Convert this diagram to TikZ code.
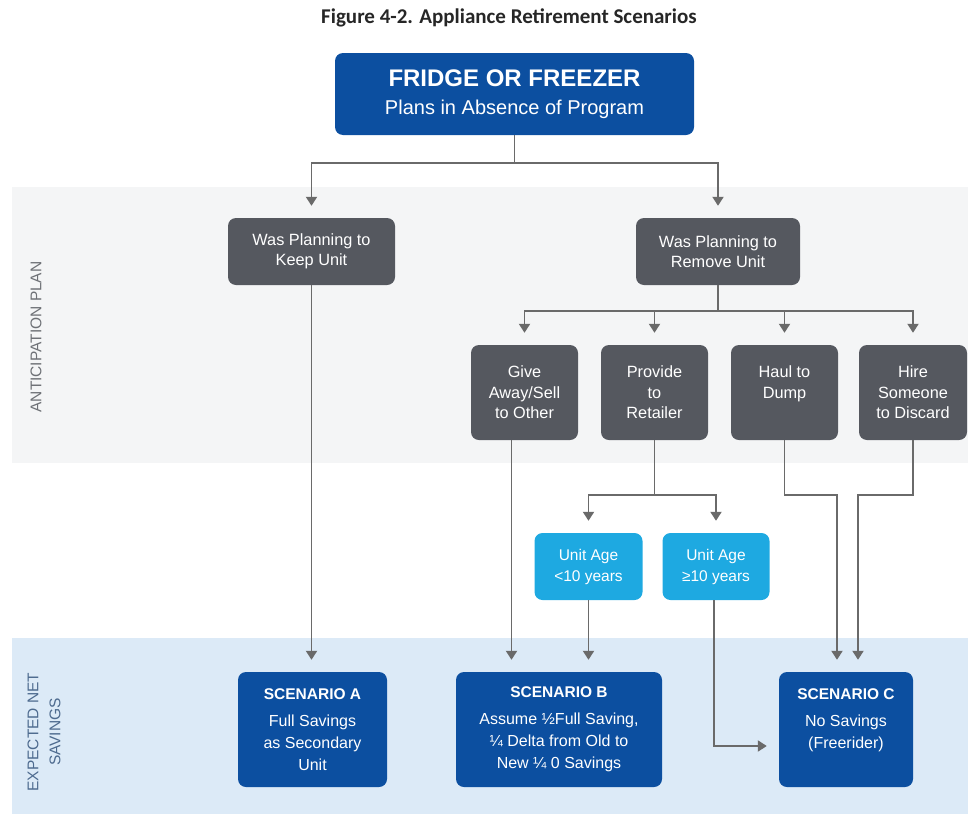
\documentclass[tikz,border=0pt]{standalone}
\usepackage{fontspec}
\setmainfont{Liberation Sans}
\newfontfamily\captionfont{Carlito}
\usetikzlibrary{arrows.meta,calc}

\definecolor{navy}{HTML}{0C4FA0}
\definecolor{slate}{HTML}{55585F}
\definecolor{sky}{HTML}{1EA9E1}
\definecolor{wire}{HTML}{6A6A6A}
\definecolor{planband}{HTML}{F4F5F6}
\definecolor{saveband}{HTML}{DCEAF7}
\definecolor{planlabel}{HTML}{6E7176}
\definecolor{savelabel}{HTML}{4E6B8F}

\begin{document}
\begin{tikzpicture}[x=1pt,y=-1pt,
  box/.style={rounded corners=8pt, text=white, align=center, inner sep=0pt},
  planbox/.style={box, fill=slate, font=\fontsize{16.3}{20.5}\selectfont},
  agebox/.style={box, fill=sky, font=\fontsize{15.5}{21}\selectfont},
  scenbox/.style={box, fill=navy, minimum height=115pt, font=\fontsize{16}{22}\selectfont},
  link/.style={draw=wire, line width=1.9pt},
  arr/.style={link, -{Triangle[width=11pt,length=9pt]}, shorten >=12pt},
  bandlabel/.style={rotate=90, align=center}
]
\useasboundingbox (0,0) rectangle (976,819);

% background bands
\fill[planband] (12,187) rectangle (968,463);
\fill[saveband] (12,638) rectangle (968,814);

% caption
\node[font=\captionfont\bfseries\fontsize{21}{24}\selectfont, text=black!85] (caption) at (509,18)
  {Figure 4-2. Appliance Retirement Scenarios};

% band labels
\node[bandlabel, text=planlabel, font=\fontsize{15.5}{20}\selectfont] (planlbl) at (36,337) {ANTICIPATION PLAN};
\node[bandlabel, text=savelabel, font=\fontsize{15.5}{22}\selectfont] (savelbl) at (44,732) {EXPECTED NET\\SAVINGS};

% root
\node[box, fill=navy, minimum width=359pt, minimum height=82pt, font=\fontsize{20}{28}\selectfont] (root) at (514.5,94)
  {{\fontsize{24}{28}\selectfont\bfseries FRIDGE OR FREEZER}\\
   Plans in Absence of Program};

% first level
\node[planbox, minimum width=167pt, minimum height=67pt] (keep) at (311.5,251.5) {Was Planning to\\Keep Unit};
\node[planbox, minimum width=164pt, minimum height=67pt] (remove) at (718,251.5) {Was Planning to\\Remove Unit};

% removal options
\node[planbox, minimum width=107pt, minimum height=95pt] (give) at (524.5,392.5) {Give\\Away/Sell\\to Other};
\node[planbox, minimum width=107pt, minimum height=95pt] (retail) at (654.5,392.5) {Provide\\to\\Retailer};
\node[planbox, minimum width=107pt, minimum height=95pt] (dump) at (784.5,392.5) {Haul to\\Dump\\\phantom{to Other}};
\node[planbox, minimum width=108pt, minimum height=95pt] (hire) at (913,392.5) {Hire\\Someone\\to Discard};

% unit age
\node[agebox, minimum width=108pt, minimum height=67pt] (young) at (588.5,566.5) {Unit Age\\<10 years};
\node[agebox, minimum width=107pt, minimum height=67pt] (old) at (716,566.5) {Unit Age\\≥10 years};

% scenarios
\node[scenbox, minimum width=149pt] (scA) at (312.5,729.5)
  {{\fontsize{15.5}{22}\selectfont\bfseries SCENARIO A}\\[5pt]Full Savings\\as Secondary\\Unit};
\node[scenbox, minimum width=206pt] (scB) at (559,729.5)
  {{\fontsize{15.5}{22}\selectfont\bfseries SCENARIO B}\\[5pt]Assume ½Full Saving,\\¼ Delta from Old to\\New ¼ 0 Savings};
\node[scenbox, minimum width=134pt] (scC) at (846,729.5)
  {{\fontsize{15.5}{22}\selectfont\bfseries SCENARIO C}\\[5pt]No Savings\\(Freerider)\\\phantom{Unit}};

% junction levels and offset lanes
\coordinate (rootsplit) at (0,163);
\coordinate (removesplit) at (0,311);
\coordinate (agesplit) at (0,495);
\coordinate (givelane) at (511.5,0);
\coordinate (oldturn) at (714,746);
\coordinate (dumplane) at (837,0);
\coordinate (hirelane) at (858,0);

% root to first level
\draw[link] (root.south) -- (root.south |- rootsplit);
\draw[arr] (root.south |- rootsplit) -| (keep.north);
\draw[arr] (root.south |- rootsplit) -| (remove.north);

% removal split
\draw[link] (remove.south) -- (remove.south |- removesplit);
\draw[arr] (remove.south |- removesplit) -| (give.north);
\draw[arr] (remove.south |- removesplit) -| (retail.north);
\draw[arr] (remove.south |- removesplit) -| (dump.north);
\draw[arr] (remove.south |- removesplit) -| (hire.north);

% retailer split by age
\draw[link] (retail.south) -- (retail.south |- agesplit);
\draw[arr] (retail.south |- agesplit) -| (young.north);
\draw[arr] (retail.south |- agesplit) -| (old.north);

% to scenarios
\draw[arr] (keep.south) -- (scA.north -| keep.south);
\draw[arr] (give.south -| givelane) -- (scB.north -| givelane);
\draw[arr] (young.south) -- (scB.north -| young.south);
\draw[arr] (old.south -| oldturn) |- (scC.west |- oldturn);
\draw[arr] (dump.south) |- (dumplane |- agesplit) -- (scC.north -| dumplane);
\draw[arr] (hire.south) |- (hirelane |- agesplit) -- (scC.north -| hirelane);
\end{tikzpicture}
\end{document}
